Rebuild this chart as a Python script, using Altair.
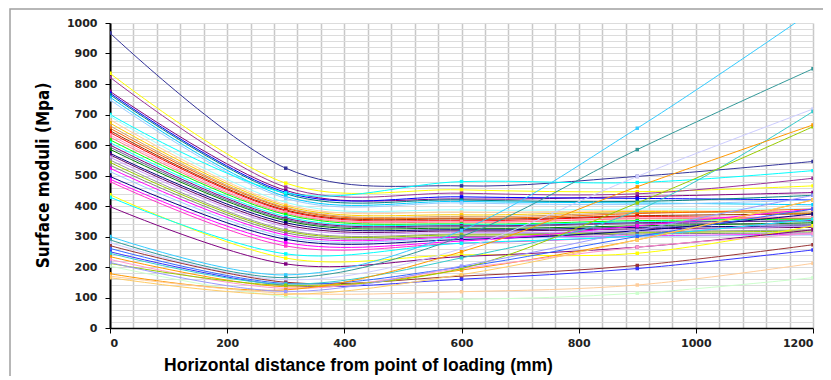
import altair as alt
import pandas as pd

distance = [0, 300, 600, 900, 1200]

# moduli (MPa) of each series at 0, 300, 600, 900, 1200 mm
v0 = [967, 835, 822, 776, 770, 765, 757, 748, 700, 694, 683, 672, 663, 655, 647, 641, 633,
      626, 617, 608, 600, 593, 586, 573, 568, 560, 551, 543, 534, 524, 513, 497, 488, 480,
      437, 429, 398, 300, 289, 280, 270, 261, 250, 245, 234, 225, 212, 203, 178, 170, 165, 215]
v300 = [524, 475, 462, 451, 445, 440, 431, 425, 443, 412, 405, 400, 395, 392, 387, 384, 380,
        376, 372, 365, 360, 356, 352, 345, 338, 332, 322, 318, 312, 305, 298, 291, 280, 269,
        229, 243, 210, 174, 165, 158, 150, 146, 140, 144, 135, 130, 140, 103, 125, 114, 110, 120]
v600 = [466, 453, 442, 423, 430, 420, 415, 410, 480, 387, 380, 371, 365, 360, 357, 352, 350,
        347, 341, 338, 335, 332, 327, 322, 318, 313, 308, 305, 300, 297, 294, 290, 285, 278,
        240, 278, 234, 320, 300, 260, 170, 200, 160, 230, 190, 195, 195, 94, 250, 119, 175, 203]
v900 = [497, 447, 440, 431, 425, 415, 410, 405, 477, 390, 385, 382, 378, 375, 368, 365, 360,
        358, 352, 348, 345, 342, 335, 330, 325, 319, 315, 312, 308, 302, 300, 319, 335, 302,
        245, 302, 265, 655, 585, 497, 205, 300, 195, 385, 289, 265, 410, 114, 463, 141, 289, 320]
v1200 = [546, 466, 491, 444, 420, 435, 404, 420, 516, 390, 380, 374, 380, 390, 374, 357, 365,
         360, 357, 350, 352, 340, 345, 335, 330, 335, 322, 318, 312, 308, 305, 374, 390, 357,
         335, 357, 322, 1040, 850, 718, 273, 390, 256, 710, 420, 310, 660, 165, 666, 212, 420, 435]

colors = ["#333399", "#FFFF00", "#993399", "#800080", "#0000FF", "#008080", "#00CCFF", "#99CCFF",
          "#00FFFF", "#99FFFF", "#FFCC99", "#FFCC00", "#CC9966", "#FF6600", "#993300", "#FF0000",
          "#FF99CC", "#FF8080", "#00FF00", "#00FFFF", "#800080", "#666699", "#008000", "#000080",
          "#660066", "#CC99FF", "#969696", "#99CC00", "#808080", "#FF00FF", "#99CCFF", "#000080",
          "#FF00FF", "#FF33CC", "#FFFF00", "#00FFFF", "#800080", "#33CCFF", "#339999", "#CCCCFF",
          "#993333", "#3366FF", "#3333FF", "#33CCCC", "#FF9900", "#FF99CC", "#99CC00", "#CCFFCC",
          "#FF9900", "#FFCC99", "#FFCC66", "#9999FF"]

series_names = [f"S{i + 1:02d}" for i in range(len(v0))]

rows = []
for i, name in enumerate(series_names):
    for d, vals in zip(distance, [v0, v300, v600, v900, v1200]):
        rows.append({"series": name, "distance": d, "modulus": vals[i]})
df = pd.DataFrame(rows)

x_grid = list(range(0, 1201, 40))
y_grid = list(range(0, 1001, 20))

x_axis = alt.Axis(
    values=x_grid, format="d",
    labelExpr="datum.value % 200 === 0 ? datum.label : ''",
    tickOpacity={"condition": {"test": "datum.value % 200 === 0", "value": 1}, "value": 0},
    grid=True, gridColor="#c8c8c8", gridWidth=1.5,
    domainColor="#000000", domainWidth=1.5, tickColor="#000000", tickSize=5,
    labelFont="DejaVu Sans", labelFontSize=11, labelFontWeight="bold", labelColor="#222222",
    labelPadding=4,
    title="Horizontal distance from point of loading (mm)",
    titleFont="Liberation Sans", titleFontSize=17.5, titleFontWeight="bold", titleColor="#000000",
    titleX=248, titleY=37, titleAlign="center", titleBaseline="middle",
)
y_axis = alt.Axis(
    values=y_grid, format="d",
    labelExpr="datum.value % 100 === 0 ? datum.label : ''",
    tickOpacity={"condition": {"test": "datum.value % 100 === 0", "value": 1}, "value": 0},
    grid=True, gridColor="#dcdcdc", gridWidth=1,
    domainColor="#000000", domainWidth=2, tickColor="#000000", tickSize=5,
    labelFont="DejaVu Sans", labelFontSize=11, labelFontWeight="bold", labelColor="#222222",
    labelPadding=8,
    title="Surface moduli (Mpa)",
    titleFont="'DejaVu Sans Condensed', 'Liberation Sans'", titleFontSize=17,
    titleFontWeight="bold", titleColor="#000000",
    titleX=-67, titleY=152, titleAlign="center", titleBaseline="middle",
)

x_enc = alt.X("distance:Q", scale=alt.Scale(domain=[0, 1200], nice=False), axis=x_axis)
y_enc = alt.Y("modulus:Q", scale=alt.Scale(domain=[0, 1000], nice=False), axis=y_axis)
c_enc = alt.Color("series:N", scale=alt.Scale(domain=series_names, range=colors), legend=None)

base = alt.Chart(df)
lines = base.mark_line(interpolate="cardinal", strokeWidth=1, clip=True).encode(
    x=x_enc, y=y_enc, color=c_enc, detail="series:N"
)
points = base.mark_square(size=12, opacity=1, clip=True).encode(x=x_enc, y=y_enc, color=c_enc)

frame = alt.Chart(pd.DataFrame({"k": [0]})).mark_rect(
    filled=False, stroke="#a0a0a0", strokeWidth=1.5
).encode(x=alt.value(-100), x2=alt.value(760), y=alt.value(-14), y2=alt.value(400))

chart = alt.layer(lines, points, frame).properties(
    width=703, height=305,
    autosize=alt.AutoSizeParams(type="none"),
    padding={"left": 102, "top": 15, "right": 10, "bottom": 48},
).configure_view(stroke=None)

chart.save("out.html", embed_options={"renderer": "svg", "actions": False})
